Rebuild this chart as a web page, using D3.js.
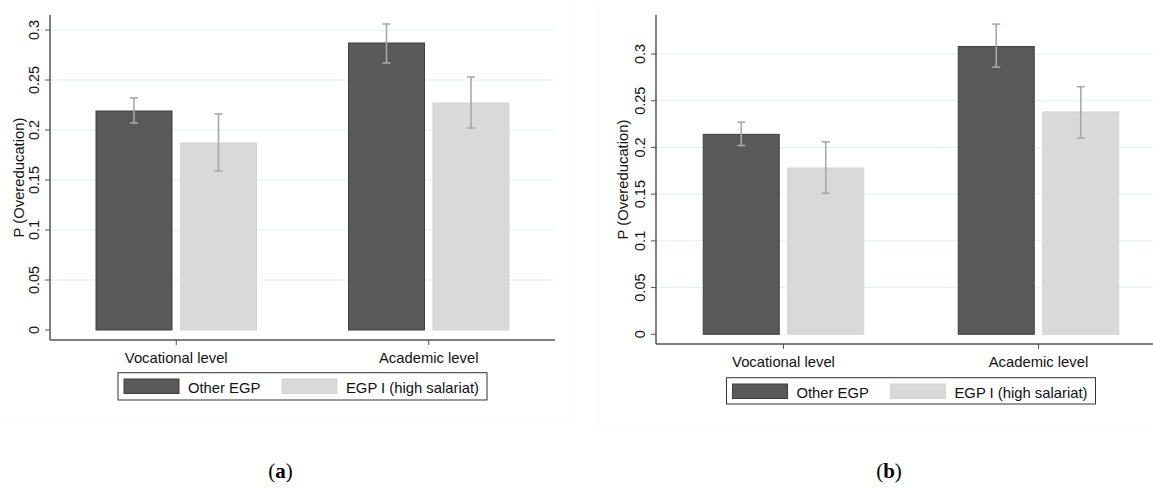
<!DOCTYPE html>
<html>
<head>
<meta charset="utf-8">
<script src="https://cdn.jsdelivr.net/npm/d3@7"></script>
<style>
  body { margin: 0; background: #fff; }
  svg { display: block; font-family: "Liberation Sans", Arial, sans-serif; }
</style>
</head>
<body>
<svg id="chart" width="1153" height="490"></svg>
<script>
// дані
const categories = ['Vocational level', 'Academic level'];
const series = ['Other EGP', 'EGP I (high salariat)'];
const yTicks = [0, 0.05, 0.1, 0.15, 0.2, 0.25, 0.3];
const yTickLabels = ['0', '0.05', '0.1', '0.15', '0.2', '0.25', '0.3'];

// панель (a)
const valuesA = [[0.219, 0.187], [0.287, 0.227]];
const lowA = [[0.207, 0.159], [0.267, 0.202]];
const highA = [[0.232, 0.216], [0.306, 0.253]];

// панель (b)
const valuesB = [[0.214, 0.178], [0.308, 0.238]];
const lowB = [[0.202, 0.151], [0.286, 0.210]];
const highB = [[0.227, 0.206], [0.332, 0.265]];

const panelLabels = ['a', 'b'];

const colors = ['#595959', '#d9d9d9'];
const strokes = ['#3f3f3f', '#d4d4d4'];

const svg = d3.select('#chart');

// ледь помітні рамки
svg.append('line').attr('x1', 0).attr('x2', 570).attr('y1', 419.5).attr('y2', 419.5)
  .style('stroke', '#f8f8f8');
svg.append('line').attr('x1', 570.5).attr('x2', 570.5).attr('y1', 5).attr('y2', 420)
  .style('stroke', '#f8f8f8');
svg.append('line').attr('x1', 598.5).attr('x2', 598.5).attr('y1', 5).attr('y2', 424)
  .style('stroke', '#f9f9f9');
svg.append('line').attr('x1', 598).attr('x2', 1153).attr('y1', 424.5).attr('y2', 424.5)
  .style('stroke', '#f9f9f9');

const panels = [
  { values: valuesA, low: lowA, high: highA, left: 50, right: 555, y0: 330, y30: 30, top: 15, axisY: 340,
    legendTop: 372.7, legendH: 27.3, labelX: 280.5 },
  { values: valuesB, low: lowB, high: highB, left: 656, right: 1166, y0: 334.3, y30: 54, top: 15, axisY: 344,
    legendTop: 377.7, legendH: 26.3, labelX: 889 }
];

const barW = 76;
const gap = 8.5;

panels.forEach((p, pi) => {
  const g = svg.append('g');

  const x0 = d3.scalePoint().domain(categories).range([p.left, p.right]).padding(0.5);
  const x1 = d3.scaleBand().domain(series)
    .range([-(barW + gap / 2), barW + gap / 2])
    .paddingInner(gap / (barW + gap));
  const y = d3.scaleLinear().domain([0, 0.3]).range([p.y0, p.y30]);

  const clipRight = Math.min(p.right, 1153);

  // сітка
  g.append('g')
    .selectAll('line')
    .data(yTicks.filter(d => d > 0))
    .enter()
    .append('line')
    .attr('x1', p.left)
    .attr('x2', clipRight)
    .attr('y1', d => y(d))
    .attr('y2', d => y(d))
    .style('stroke', '#e6eff2')
    .style('stroke-width', 1);

  // стовпчики
  const groups = g.append('g')
    .selectAll('g')
    .data(categories)
    .enter()
    .append('g')
    .attr('transform', d => `translate(${x0(d)},0)`);

  groups.selectAll('rect')
    .data((c, ci) => series.map((s, si) => ({ s, si, v: p.values[ci][si] })))
    .enter()
    .append('rect')
    .attr('x', d => x1(d.s))
    .attr('width', x1.bandwidth())
    .attr('y', d => y(d.v))
    .attr('height', d => y(0) - y(d.v))
    .style('fill', d => colors[d.si])
    .style('stroke', d => strokes[d.si])
    .style('stroke-width', 1);

  // похибки
  const err = groups.selectAll('g.err')
    .data((c, ci) => series.map((s, si) => ({ s, lo: p.low[ci][si], hi: p.high[ci][si] })))
    .enter()
    .append('g')
    .attr('class', 'err')
    .attr('transform', d => `translate(${x1(d.s) + x1.bandwidth() / 2},0)`);

  err.append('line')
    .attr('x1', 0).attr('x2', 0)
    .attr('y1', d => y(d.hi)).attr('y2', d => y(d.lo))
    .style('stroke', '#a8a8a8').style('stroke-width', 1.6);
  ['hi', 'lo'].forEach(k => {
    err.append('line')
      .attr('x1', -4).attr('x2', 4)
      .attr('y1', d => y(d[k])).attr('y2', d => y(d[k]))
      .style('stroke', '#a8a8a8').style('stroke-width', 1.6);
  });

  // осі
  g.append('line')
    .attr('x1', p.left).attr('x2', p.left)
    .attr('y1', p.top).attr('y2', p.axisY)
    .style('stroke', '#555').style('stroke-width', 1.5);
  g.append('line')
    .attr('x1', p.left).attr('x2', clipRight)
    .attr('y1', p.axisY).attr('y2', p.axisY)
    .style('stroke', '#555').style('stroke-width', 1.5);

  // поділки осі y
  g.append('g')
    .selectAll('line')
    .data(yTicks)
    .enter()
    .append('line')
    .attr('x1', p.left - 5).attr('x2', p.left)
    .attr('y1', d => y(d)).attr('y2', d => y(d))
    .style('stroke', '#555').style('stroke-width', 1);

  g.append('g')
    .selectAll('text')
    .data(yTicks)
    .enter()
    .append('text')
    .attr('transform', d => `translate(${p.left - 11.5},${y(d)}) rotate(-90)`)
    .attr('text-anchor', 'middle')
    .style('font-size', '14.5px')
    .style('fill', '#111')
    .text((d, i) => yTickLabels[i]);

  g.append('text')
    .attr('transform', `translate(${p.left - 26 - pi * 2},${(p.top + p.axisY) / 2}) rotate(-90)`)
    .attr('text-anchor', 'middle')
    .style('font-size', '14.8px')
    .style('fill', '#111')
    .text('P (Overeducation)');

  // поділки осі x
  g.append('g')
    .selectAll('line')
    .data(categories)
    .enter()
    .append('line')
    .attr('x1', d => x0(d)).attr('x2', d => x0(d))
    .attr('y1', p.axisY).attr('y2', p.axisY + 5)
    .style('stroke', '#555').style('stroke-width', 1);

  g.append('g')
    .selectAll('text')
    .data(categories)
    .enter()
    .append('text')
    .attr('x', d => x0(d))
    .attr('y', p.axisY + 23)
    .attr('text-anchor', 'middle')
    .style('font-size', '14.8px')
    .style('fill', '#111')
    .text(d => d);

  // легенда
  const mid = (p.left + p.right) / 2;
  const lw = 369;
  const lx = mid - lw / 2;
  const leg = g.append('g');
  leg.append('rect')
    .attr('x', lx).attr('y', p.legendTop)
    .attr('width', lw).attr('height', p.legendH)
    .style('fill', '#fff').style('stroke', '#333').style('stroke-width', 1);

  const itemX = [6, 164];
  series.forEach((s, si) => {
    leg.append('rect')
      .attr('x', lx + itemX[si]).attr('y', p.legendTop + 6.3)
      .attr('width', 55).attr('height', 14.5)
      .style('fill', colors[si]).style('stroke', strokes[si]).style('stroke-width', 1);
    leg.append('text')
      .attr('x', lx + itemX[si] + 64)
      .attr('y', p.legendTop + 20)
      .style('font-size', '14.8px')
      .style('fill', '#111')
      .text(s);
  });

  // підпис панелі
  const lab = svg.append('text')
    .attr('x', p.labelX)
    .attr('y', 478)
    .attr('text-anchor', 'middle')
    .style('font-family', '"Liberation Serif", "DejaVu Serif", serif')
    .style('font-size', '21px')
    .style('fill', '#000');
  lab.append('tspan').text('(');
  lab.append('tspan').style('font-weight', 'bold').text(panelLabels[pi]);
  lab.append('tspan').text(')');
});
</script>
</body>
</html>
